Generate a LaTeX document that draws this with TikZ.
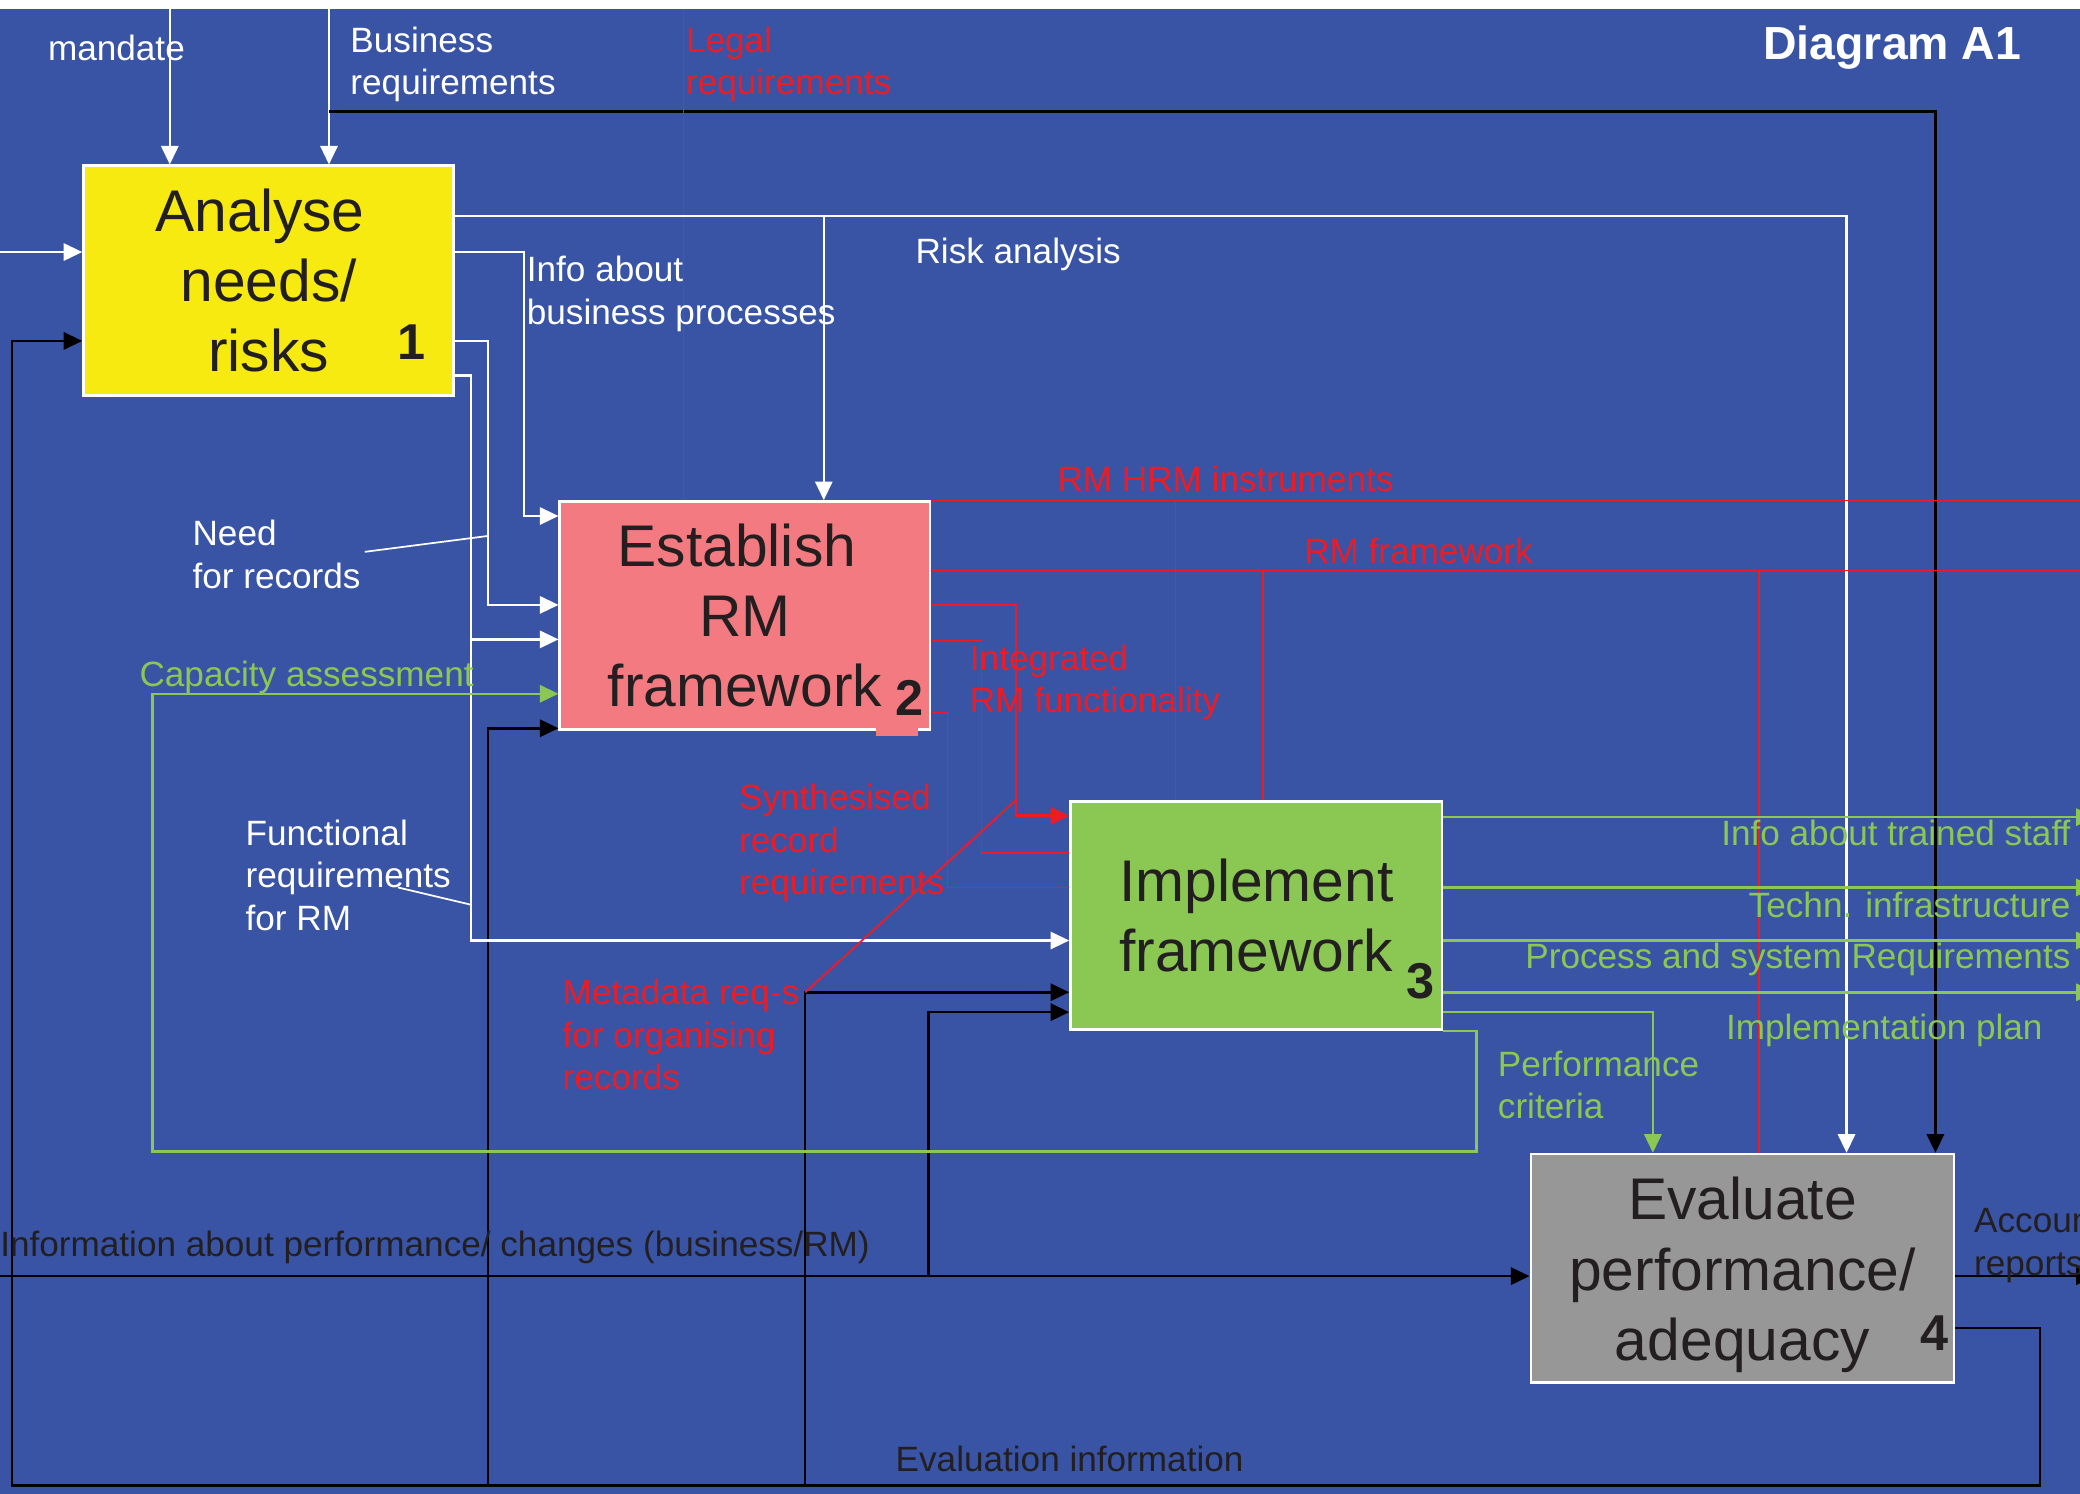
\documentclass[tikz,border=0pt]{standalone}
\usepackage{fontspec}
\setmainfont{Liberation Sans}
\usetikzlibrary{arrows.meta}

\definecolor{bgblue}{RGB}{57,84,165}
\definecolor{boxyellow}{RGB}{246,234,17}
\definecolor{boxpink}{RGB}{242,122,128}
\definecolor{boxgreen}{RGB}{139,199,83}
\definecolor{boxgray}{RGB}{151,151,151}
\definecolor{lgreen}{RGB}{139,199,83}
\definecolor{lred}{RGB}{237,28,36}
\definecolor{ink}{RGB}{35,31,32}

\begin{document}
\begin{tikzpicture}[x=1pt,y=-1pt,
  box/.style={draw=white,line width=2pt,anchor=north west,inner sep=0pt,
    align=center,text=ink,font=\fontsize{44.3}{53}\selectfont},
  boxtext/.style={inner sep=0pt,align=center,text=ink,font=\fontsize{44.3}{53}\selectfont},
  num/.style={inner sep=0pt,text=ink,font=\bfseries\fontsize{38}{38}\selectfont},
  lab/.style={inner sep=0pt,align=left,font=\fontsize{26.5}{32}\selectfont},
  wl/.style={draw=white,line width=1.7pt},
  bl/.style={draw=black,line width=1.9pt},
  gl/.style={draw=lgreen,line width=1.9pt},
  rl/.style={draw=lred,line width=0.9pt},
  arr/.style={-{Triangle[length=14pt,width=13pt]}}
]
\path[use as bounding box] (0,0) rectangle (1568,1126);
\fill[white] (0,0) rectangle (1568,7);
\fill[bgblue] (0,7) rectangle (1568,1126);

\begin{scope}
\clip (0,7) rectangle (1568,1126);

% ---- activity boxes
\node[box,fill=boxyellow,minimum width=279pt,minimum height=173pt] (b1) at (62,124)
  {Analyse\hspace*{13pt}\\needs/\\risks};
\node[box,fill=boxpink,minimum width=279pt,minimum height=172pt] (b2) at (421,377)
  {Establish\hspace*{12pt}\\RM\\framework};
\fill[boxpink] (660,548) rectangle (692,555);
\node[box,fill=boxgreen,minimum width=280pt,minimum height=172pt] (b3) at (806,603)
  {Implement\\framework};
\node[box,fill=boxgray,minimum width=319pt,minimum height=172pt] (b4) at (1153,869) {};
\node[boxtext] (t4) at ([yshift=-5pt]b4.center) {Evaluate\\performance/\\adequacy};

\node[num] (n1) at (310,258) {1};
\node[num] (n2) at (686,526) {2};
\node[num] (n3) at (1071,740) {3};
\node[num] (n4) at (1458,1005) {4};

% ---- free ends and junctions
\coordinate (mandTop) at (128,7);
\coordinate (busTop) at (248,7);
\coordinate (busJ) at (248,84);
\coordinate (legalTop) at (515,7);
\coordinate (leftIn) at (0,190);
\coordinate (leftPerf) at (0,962);
\coordinate (fbR) at (1538,1120);
\coordinate (fbL) at (9,1120);
\coordinate (fb2) at (368,1120);
\coordinate (fb3) at (607,1120);
\coordinate (perfJ) at (700,962);
\coordinate (riskJ) at (621,163);
\coordinate (funcJ) at (355,482);
\coordinate (hrmJ) at (886,377);
\coordinate (fwJa) at (952,430);
\coordinate (fwJb) at (1326,430);
\coordinate (capC1) at (1113,868);
\coordinate (capC2) at (115,523);

% ---- controls from the top
\draw[wl,arr] (mandTop) -- (mandTop |- b1.north);
\draw[wl,arr] (busTop) -- (busTop |- b1.north);
\draw[bl,arr] (busJ) -| (b4.north -| 1459,0);
\draw[rl] (legalTop) -- (legalTop |- b2.north);

% ---- inputs from the left
\draw[wl,arr] (leftIn) -- (b1.west |- leftIn);
\draw[bl,arr] (leftPerf) -- (b4.west |- leftPerf);
\draw[bl,arr] (perfJ) |- (b3.west |- 0,763);

% ---- evaluation feedback loop
\draw[bl,arr] (b4.east |- 0,1001) -| (fbR) -- (fbL) |- (b1.west |- 0,257);
\draw[bl,arr] (fb2) |- (b2.west |- 0,549);
\draw[bl,arr] (fb3) |- (b3.west |- 0,748);

% ---- outputs of box 1
\draw[wl,arr] (b1.east |- 0,163) -| (b4.north -| 1392,0);
\draw[wl,arr] (riskJ) -- (b2.north -| riskJ);
\draw[wl,arr] (b1.east |- 0,190) -| (395,389) -- (b2.west |- 0,389);
\draw[wl,arr] (b1.east |- 0,257) -| (368,456) -- (b2.west |- 0,456);
\draw[wl,arr] (b1.east |- 0,283) -| (355,709) -- (b3.west |- 0,709);
\draw[wl,arr] (funcJ) -- (b2.west |- funcJ);

% ---- outputs of box 2
\draw[rl] (b2.north east) -- (1568,377);
\draw[rl] (hrmJ) -- (b3.north -| hrmJ);
\draw[rl,line width=1.2pt] (b2.east |- 0,430) -- (1568,430);
\draw[rl,line width=1.2pt] (fwJa) -- (b3.north -| fwJa);
\draw[rl] (fwJb) -- (b4.north -| fwJb);
\draw[rl,line width=2pt,arr] (b2.east |- 0,456) -| (766,615) -- (b3.west |- 0,615);
\draw[rl] (b2.east |- 0,483) -| (740,643) -- (b3.west |- 0,643);
\draw[rl] (b2.east |- 0,537) -| (714,669) -- (b3.west |- 0,669);
\draw[rl,line width=1.4pt] (fb3 |- 0,748) -- (766,603);

% ---- outputs of box 3
\draw[gl,arr] (b3.east |- 0,616) -- (1579,616);
\draw[gl,arr] (b3.east |- 0,669) -- (1579,669);
\draw[gl,arr] (b3.east |- 0,709) -- (1579,709);
\draw[gl,arr] (b3.east |- 0,748) -- (1579,748);
\draw[gl,arr] (b3.east |- 0,763) -| (b4.north -| 1246,0);
\draw[gl,line width=1.7pt,arr] (b3.south east) -| (capC1) -| (capC2) -- (b2.west |- capC2);

% ---- output of box 4
\draw[bl,arr] (b4.east |- 0,962) -- (1579,962);

% ---- leader lines
\node[lab,text=white,anchor=north west] (need) at (145,392) {Need\\for records};
\node[lab,text=white,anchor=north west] (func) at (185,618) {Functional\\requirements\\for RM};
\draw[wl,line width=1.3pt] (275,416) -- (368,404);
\draw[wl,line width=1.3pt] (300,669) -- (355,682);

% ---- labels
\node[lab,text=white,anchor=west] (lmand) at (36,36) {mandate};
\node[lab,text=white,anchor=north west] (lbus) at (264,20) {Business\\requirements};
\node[lab,text=lred,anchor=north west] (llegal) at (517,20) {Legal\\requirements};
\node[inner sep=0pt,text=white,font=\bfseries\fontsize{35}{35}\selectfont,anchor=east] (title) at (1524,36) {Diagram A1};
\node[lab,text=white,anchor=north west] (libp) at (397,193) {Info about\\business processes};
\node[lab,text=white,anchor=west] (lrisk) at (690,192) {Risk analysis};
\node[lab,text=lgreen,anchor=west] (lcap) at (105,511) {Capacity assessment};
\node[lab,text=lred,anchor=west] (lhrm) at (797,361) {RM HRM instruments};
\node[lab,text=lred,anchor=west] (lfw) at (983,415) {RM framework};
\node[lab,text=lred,anchor=north west] (lint) at (731,486) {Integrated\\RM functionality};
\node[lab,text=lred,anchor=north west] (lsyn) at (557,591) {Synthesised\\record\\requirements};
\node[lab,text=lred,anchor=north west] (lmeta) at (424,738) {Metadata req-s\\for organising\\records};
\node[lab,text=lgreen,anchor=east] (lstaff) at (1561,628) {Info about trained staff};
\node[lab,text=lgreen,anchor=east] (ltech) at (1561,682) {Techn. infrastructure};
\node[lab,text=lgreen,anchor=east] (lproc) at (1561,723) {Process and system Requirements};
\node[lab,text=lgreen,anchor=east] (lplan) at (1540,777) {Implementation plan};
\node[lab,text=lgreen,anchor=north west] (lcrit) at (1129,792) {Performance\\criteria};
\node[lab,text=ink,anchor=west] (linfo) at (0,940) {Information about performance/ changes (business/RM)};
\node[lab,text=ink,anchor=west] (leval) at (675,1100) {Evaluation information};
\node[lab,text=ink,anchor=north west] (lacc) at (1488,910) {Accountability\\reports};
\end{scope}
\end{tikzpicture}
\end{document}
